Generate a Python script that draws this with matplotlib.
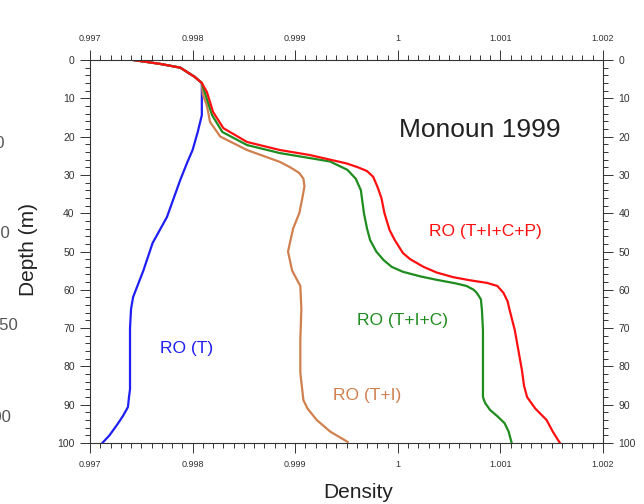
import numpy as np
import matplotlib
matplotlib.use('Agg')
from matplotlib import pyplot as plt
from matplotlib.ticker import MultipleLocator, FuncFormatter

plt.rcParams['font.family'] = ['Liberation Sans', 'DejaVu Sans']

# ---- data (depth in m, density) ----
depth_T = [0, 1, 2, 4.4, 6, 7.3, 14.4, 18.8, 23.5, 26.6, 31.3, 41, 47.8, 55, 61.9, 65, 70, 80, 86, 88, 90.6,
           93, 95, 98, 100]
dens_T = [0.99742, 0.99768, 0.99788, 0.99802, 0.99809, 0.99809, 0.99809, 0.99805, 0.99800, 0.99795, 0.99788,
          0.99775, 0.99761, 0.99752, 0.99742, 0.99740, 0.99739, 0.99739, 0.99739, 0.99738, 0.99737, 0.99732,
          0.99727, 0.99719, 0.99712]

depth_TI = [0, 1, 2, 4.4, 6, 9, 12, 16.2, 20, 23.5, 26.6, 28, 29.5, 31, 33, 36, 40, 44, 50, 55, 59, 65, 73,
            81.7, 88.8, 91, 94, 97, 99.7]
dens_TI = [0.99742, 0.99768, 0.99788, 0.99802, 0.99809, 0.99810, 0.99814, 0.99817, 0.99827, 0.99853, 0.99885,
           0.99895, 0.99904, 0.99908, 0.99909, 0.99907, 0.99904, 0.99898, 0.99893, 0.99897, 0.99905, 0.99906,
           0.99905, 0.99905, 0.99908, 0.99912, 0.99921, 0.99934, 0.99951]

depth_TIC = [0, 1, 2, 4.4, 6, 8.6, 14.4, 18.8, 22.2, 24.3, 25.6, 26.5, 28.7, 31, 34, 40, 44, 47, 50, 52.2, 54,
             55.3, 56.5, 57.4, 58.3, 59, 60, 60.8, 62.5, 65.3, 70.5, 88, 89.5, 91.4, 93, 94.8, 97, 100]
dens_TIC = [0.99742, 0.99768, 0.99788, 0.99802, 0.99809, 0.99812, 0.99819, 0.99829, 0.99853, 0.99885, 0.99914,
            0.99934, 0.99951, 0.99959, 0.99964, 0.99967, 0.99970, 0.99973, 0.99979, 0.99986, 0.99994, 1.00005,
            1.00022, 1.00038, 1.00056, 1.00067, 1.00074, 1.00077, 1.00081, 1.00082, 1.00083, 1.00083, 1.00085,
            1.00090, 1.00097, 1.00104, 1.00108, 1.00111]

depth_TICP = [0, 1, 2, 4.4, 6, 8.4, 13.6, 17.8, 21.4, 23.5, 24.8, 27, 28, 29, 30.5, 33, 36, 40, 44.4, 47, 50.4,
              52, 54, 55.5, 56.7, 57.5, 58.2, 59, 60.8, 63, 65.3, 70.5, 81, 85, 88, 91, 94, 97, 100]
dens_TICP = [0.99742, 0.99768, 0.99788, 0.99802, 0.99809, 0.99814, 0.99820, 0.99830, 0.99853, 0.99885, 0.99914,
             0.99950, 0.99961, 0.99970, 0.99976, 0.99980, 0.99984, 0.99987, 0.99992, 0.99997, 1.00005, 1.00012,
             1.00025, 1.00038, 1.00054, 1.00070, 1.00087, 1.00097, 1.00103, 1.00107, 1.00109, 1.00114, 1.00121,
             1.00123, 1.00126, 1.00134, 1.00145, 1.00151, 1.00158]

c_T, c_TI, c_TIC, c_TICP = '#1f1ff5', '#d0804f', '#1e8c1e', '#ff1010'

fig = plt.figure(figsize=(6.44, 5.04), dpi=100)
ax = fig.add_axes([90/644, 1-443/504, 513/644, 383/504])

ax.plot(dens_T, depth_T, color=c_T, lw=1.6)
ax.plot(dens_TI, depth_TI, color=c_TI, lw=1.6)
ax.plot(dens_TIC, depth_TIC, color=c_TIC, lw=1.6)
ax.plot(dens_TICP, depth_TICP, color=c_TICP, lw=1.6)

ax.set_xlim(0.997, 1.002)
ax.set_ylim(100, 0)

ax.xaxis.set_major_locator(MultipleLocator(0.001))
ax.xaxis.set_minor_locator(MultipleLocator(0.0001))
ax.yaxis.set_major_locator(MultipleLocator(10))
ax.yaxis.set_minor_locator(MultipleLocator(2))
ax.xaxis.set_major_formatter(FuncFormatter(lambda v, p: '%g' % round(v, 4)))

ax.tick_params(which='both', direction='out', top=True, right=True, labeltop=True, labelright=True,
               color='#333333', width=0.7)
ax.tick_params(which='major', length=7)
ax.tick_params(which='minor', length=3.5)
ax.tick_params(axis='x', labelsize=6.5, pad=5, labelcolor='#333333')
ax.tick_params(axis='y', labelsize=7.5, pad=4, labelcolor='#333333')
for s in ax.spines.values():
    s.set_color('#333333')
    s.set_linewidth(0.8)

# labels on the curves
ax.text(1.0008, 18.3, 'Monoun 1999', fontsize=19, ha='center', va='center', color='#222222')
ax.text(1.00085, 44.9, 'RO (T+I+C+P)', fontsize=12.5, ha='center', va='center', color=c_TICP)
ax.text(1.00005, 67.9, 'RO (T+I+C)', fontsize=12.5, ha='center', va='center', color=c_TIC)
ax.text(0.997945, 75.2, 'RO (T)', fontsize=12.5, ha='center', va='center', color=c_T)
ax.text(0.99970, 87.7, 'RO (T+I)', fontsize=12.5, ha='center', va='center', color=c_TI)

fig.text(28/644, 1-250/504, 'Depth (m)', rotation=90, fontsize=15, ha='center', va='center', color='#222222')
fig.text(358/644, 1-493/504, 'Density', fontsize=15, ha='center', va='center', color='#222222')

# cut-off labels of the neighbouring panel at the left edge (cut off in the reference too)
for yy, s, xr in [(143, '50', 5), (233, '100', 11), (325, '150', 18), (418, '200', 11)]:
    fig.text(xr/644, 1-yy/504, s, fontsize=12, ha='right', va='center', color='#555555')

fig.savefig('out.png', dpi=100)
